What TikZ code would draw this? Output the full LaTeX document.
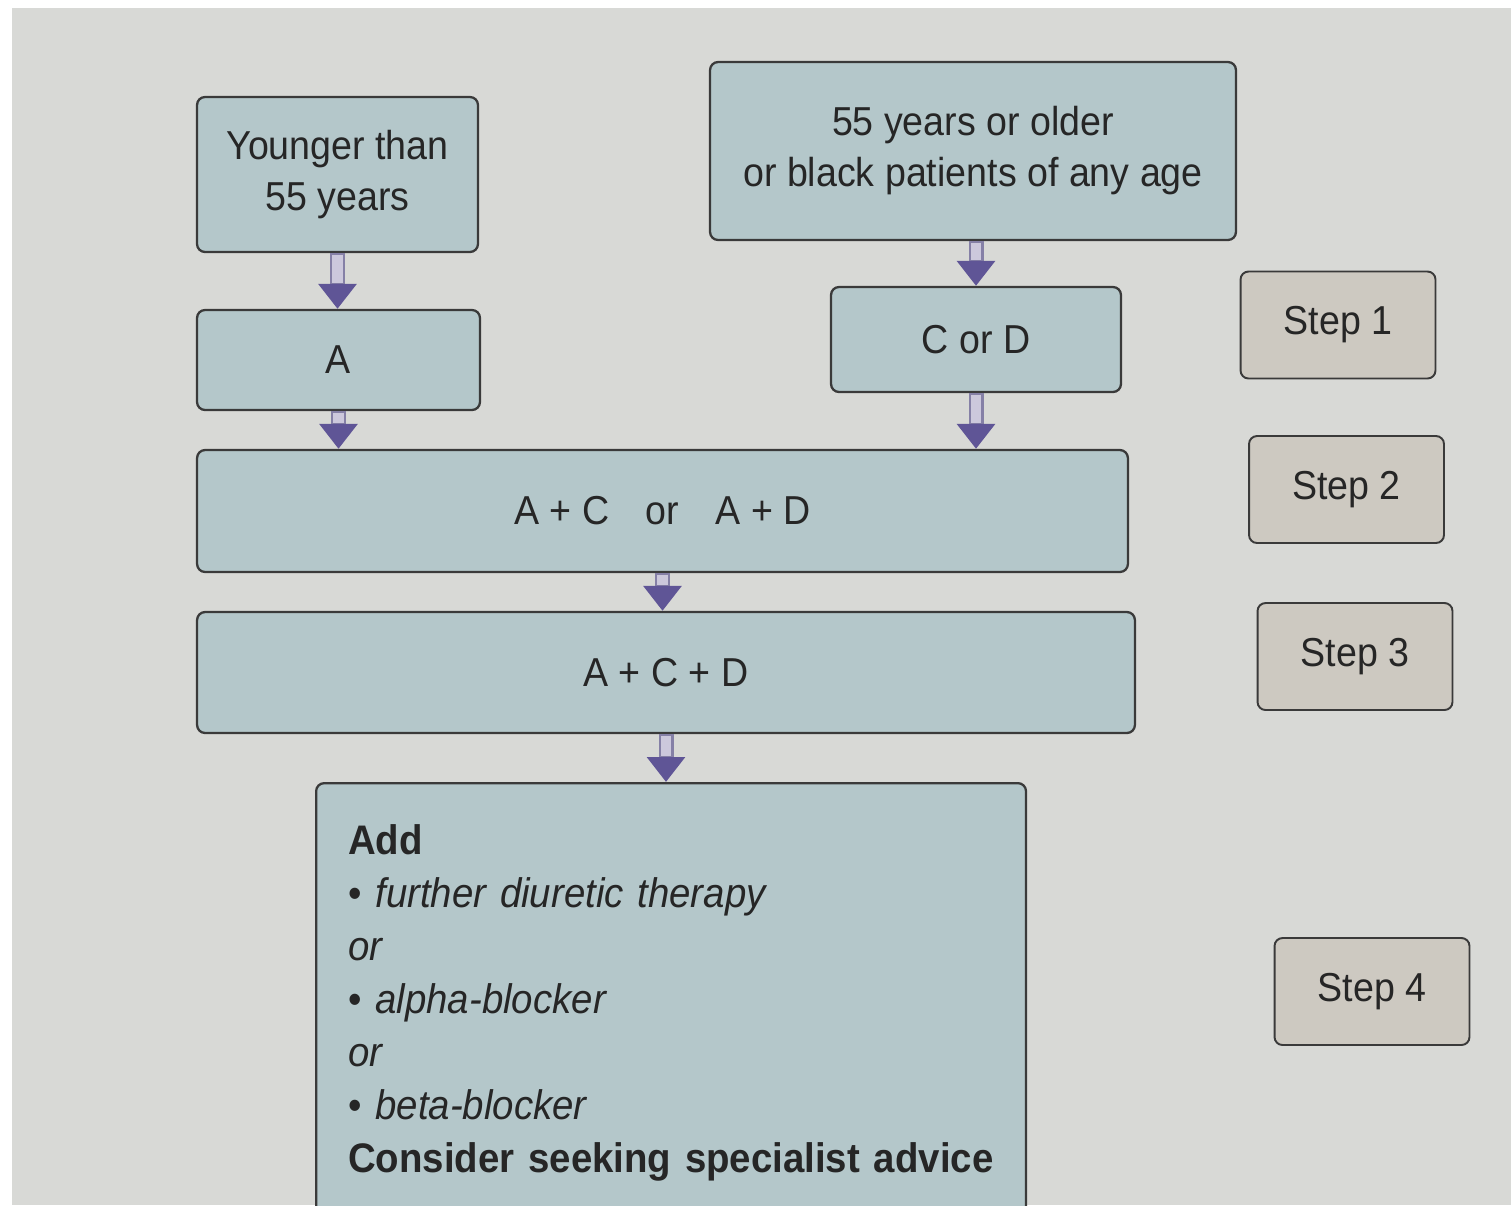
\documentclass[tikz,border=0pt]{standalone}
\usepackage{fontspec}
\setmainfont{Liberation Sans}[FakeStretch=0.93]
\usetikzlibrary{positioning, arrows.meta, calc}

\definecolor{paper}{HTML}{D8D9D6}
\definecolor{boxblue}{HTML}{B4C7CA}
\definecolor{stepgrey}{HTML}{CDC9C1}
\definecolor{edgegrey}{HTML}{3A3A3A}
\definecolor{inkgrey}{HTML}{262626}
\definecolor{headpurple}{HTML}{5F5596}
\definecolor{shaftlilac}{HTML}{CCC8DC}
\definecolor{shaftedge}{HTML}{8580A6}

\begin{document}
\begin{tikzpicture}[%
		x=0.02cm, y=-0.02cm,
		flowbox/.style={
			rectangle,
			rounded corners=1.6mm,
			line width=1.3pt,
			draw=edgegrey,
			fill=boxblue,
			text=inkgrey,
			align=center,
			font=\fontsize{23}{29}\selectfont
		},
		stepbox/.style={
			rectangle,
			rounded corners=1.6mm,
			line width=1.1pt,
			draw=edgegrey,
			fill=stepgrey,
			text=inkgrey,
			minimum width=3.9cm,
			minimum height=2.14cm,
			font=\fontsize{23}{29}\selectfont
		},
		flowarrow/.style={
			draw=shaftedge,
			line width=3mm,
			-{Triangle[width=7.4mm,length=5mm,fill=headpurple,color=headpurple]},
			postaction={draw=shaftlilac, line width=2.1mm, -, shorten >=5.2mm, shorten <=0.3mm}
		}]

		% PAGE
		\useasboundingbox (0,0) rectangle (1511,1205);
		\fill[white] (0,0) rectangle (1511,1205);
		\fill[paper] (12,8) rectangle (1511,1205);

		% AGE GROUPS
		\node (young) [flowbox, minimum width=5.62cm, minimum height=3.1cm] at (337.5,174.5) {Younger than\\55 years};
		\node (old) [flowbox, minimum width=10.52cm, minimum height=3.56cm] at (973,151) {55 years or older\\or black patients of any age};

		% STEP 1 - 3
		\node (boxA) [flowbox, minimum width=5.66cm, minimum height=2cm] at (338.5,360) {A};
		\node (CorD) [flowbox, minimum width=5.8cm, minimum height=2.1cm] at (976,339.5) {C or D};
		\node (ACorAD) [flowbox, minimum width=18.62cm, minimum height=2.44cm] at (662.5,511) {A + C\hspace{0.9em}or\hspace{0.9em}A + D};
		\node (ACD) [flowbox, minimum width=18.76cm, minimum height=2.42cm] at (666,672.5) {A + C + D};

		% STEP 4
		\node (addbox) [flowbox, anchor=north west, minimum width=14.2cm, minimum height=8.8cm, text width=12.92cm, inner xsep=0.64cm, align=left, font=\fontsize{23.5}{30.2}\selectfont] at (315,782) {%
			\textbf{Add}\\
			\textbullet\ \textit{further diuretic therapy}\\
			\textit{or}\\
			\textbullet\ \textit{alpha-blocker}\\
			\textit{or}\\
			\textbullet\ \textit{beta-blocker}\\
			\textbf{Consider seeking specialist advice}};

		% STEPS
		\node (step1) [stepbox] at (1338,325) {Step 1};
		\node (step2) [stepbox] at (1346.5,489.5) {Step 2};
		\node (step3) [stepbox] at (1355,656.5) {Step 3};
		\node (step4) [stepbox] at (1372,991.5) {Step 4};

		% ARROWS
		\draw[flowarrow] (young.south) -- (young.south |- boxA.north);
		\draw[flowarrow] (old.south -| CorD.north) -- (CorD.north);
		\draw[flowarrow] (boxA.south) -- (boxA.south |- ACorAD.north);
		\draw[flowarrow] (CorD.south) -- (CorD.south |- ACorAD.north);
		\draw[flowarrow] (ACorAD.south) -- (ACorAD.south |- ACD.north);
		\draw[flowarrow] (ACD.south) -- (ACD.south |- addbox.north);
\end{tikzpicture}
\end{document}
